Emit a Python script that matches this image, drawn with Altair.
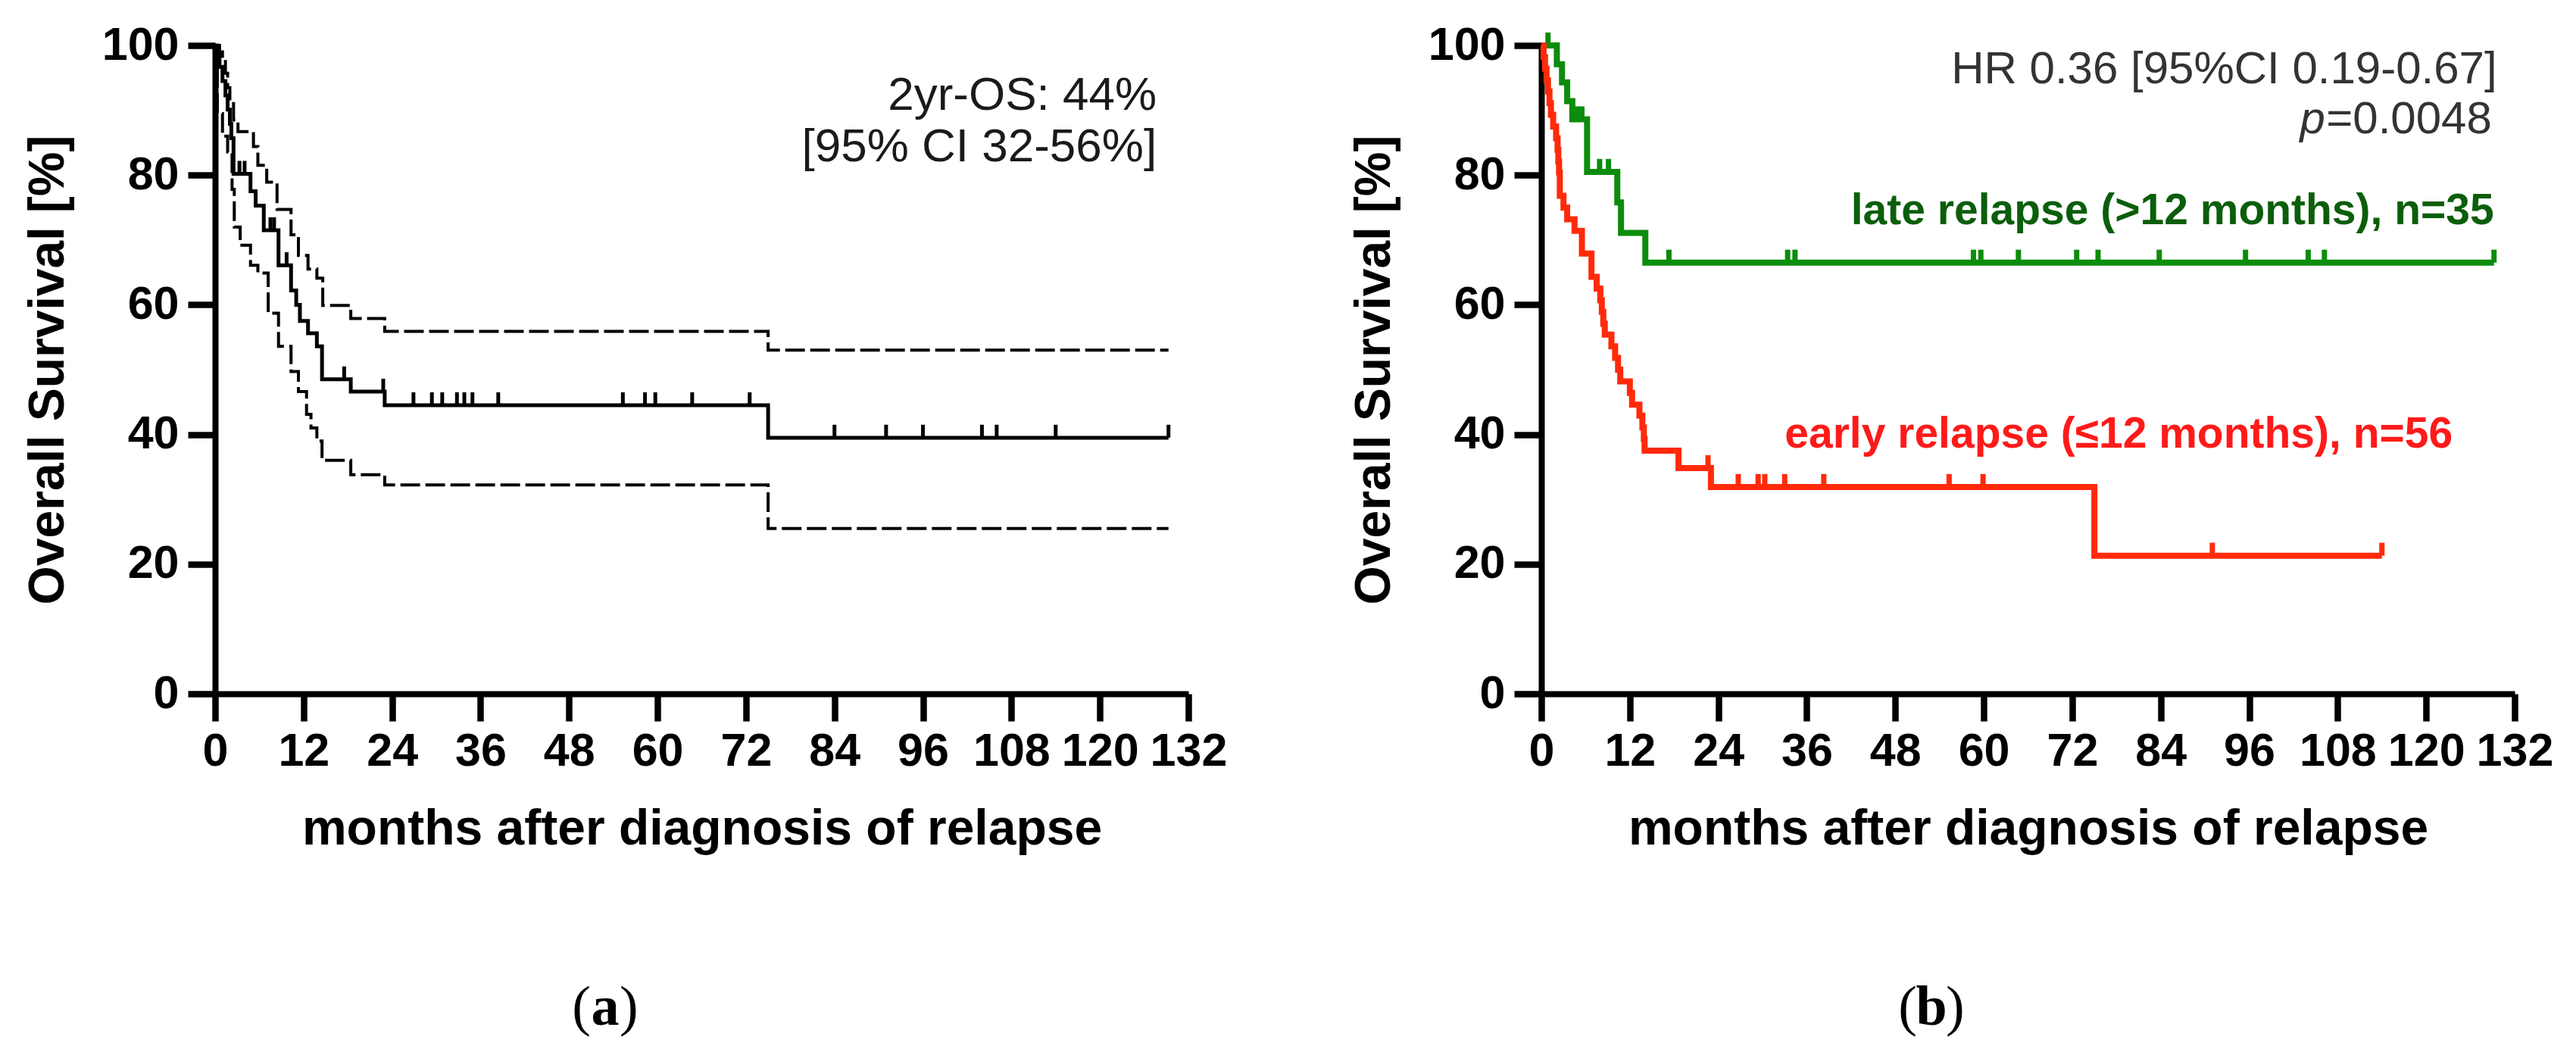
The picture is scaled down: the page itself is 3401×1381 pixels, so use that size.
import altair as alt
import pandas as pd

SANS = "Liberation Sans, Arial, Helvetica, sans-serif"
SERIF = "Liberation Serif, Times New Roman, serif"

# ---------------- Panel (a): overall survival with 95% CI ----------------
a_s_t = [0, 0.3, 0.6, 1.0, 1.4, 1.7, 2.0, 2.2, 2.5, 4.8, 5.5, 6.6, 8.6, 10.3, 11.0, 11.5, 12.6, 13.8, 14.5, 18.4, 23.0, 75.0, 129.3]
a_s   = [100, 98.9, 96.7, 94.5, 92.3, 90.1, 87.9, 85.7, 80.2, 77.5, 75.3, 71.5, 66.1, 62.2, 60.0, 57.5, 55.6, 53.6, 48.5, 46.6, 44.5, 39.5, 39.5]

a_u_t = [0, 0.6, 1.0, 1.4, 1.7, 2.0, 2.5, 3.1, 5.2, 5.8, 7.0, 8.4, 10.3, 11.3, 12.6, 13.8, 14.6, 18.4, 23.0, 75.0, 129.3]
a_u   = [100, 99.0, 97.8, 95.7, 93.5, 91.5, 88.5, 86.7, 84.4, 81.5, 78.9, 74.7, 70.8, 67.6, 65.5, 64.1, 59.9, 57.9, 55.9, 53.0, 53.0]

a_l_t = [0, 0.3, 1.0, 1.7, 2.3, 2.6, 3.4, 4.8, 5.8, 7.2, 8.6, 10.3, 11.3, 12.4, 13.0, 13.8, 14.5, 18.4, 23.0, 75.0, 129.3]
a_l   = [100, 89.5, 86.0, 83.6, 77.8, 72.0, 69.2, 66.1, 64.9, 58.7, 53.6, 49.7, 46.6, 43.1, 41.0, 39.0, 36.0, 33.8, 32.2, 25.5, 25.5]

a_cens_t = [3.3, 4.0, 7.5, 8.0, 9.7, 17.5, 22.8, 26.9, 29.4, 30.8, 32.8, 33.8, 34.9, 38.4, 55.3, 58.3, 59.7, 64.7, 72.5,
            84.0, 91.0, 96.0, 104.0, 106.0, 114.0, 129.3]

# ---------------- Panel (b): early vs late relapse ----------------
g_t = [0, 2.1, 2.8, 3.5, 4.2, 6.2, 10.3, 10.8, 14.1, 129.2]
g_s = [100, 97.1, 94.3, 91.4, 88.6, 80.5, 75.8, 71.1, 66.5, 66.5]
g_cens_t = [0.9, 4.9, 5.5, 7.9, 9.1, 17.3, 33.4, 34.4, 58.6, 59.6, 64.7, 72.6, 75.5, 83.8, 95.5, 104.0, 106.2, 129.2]

r_t = [0, 0.3, 0.5, 0.7, 0.9, 1.1, 1.3, 1.6, 2.0, 2.2, 2.3, 2.4, 2.5, 3.0, 3.5, 4.5, 5.5, 6.8, 7.5,
       8.0, 8.2, 8.4, 8.6, 9.5, 10.0, 10.4, 10.7, 12.0, 12.3, 13.3, 13.7, 13.9, 14.0, 18.6, 23.0, 75.0, 114.0]
r_s = [100, 98.2, 96.4, 94.6, 92.9, 91.1, 89.3, 87.5, 85.7, 83.9, 82.1, 80.4, 76.8, 75.0, 73.2, 71.4, 67.9, 64.3, 62.5,
       60.7, 58.9, 57.1, 55.4, 53.6, 51.8, 50.0, 48.2, 46.4, 44.6, 42.9, 41.1, 39.3, 37.5, 34.8, 31.9, 21.3, 21.3]
r_cens_t = [22.6, 26.7, 29.4, 30.3, 33.0, 38.3, 55.3, 59.9, 91.0, 114.0]

x_ticks = list(range(0, 133, 12))
y_ticks = [0, 20, 40, 60, 80, 100]

W, H = 1285, 856
TICK_H = 2.0  # censor tick height in % units


def level_at(ts, ss, t):
    lvl = ss[0]
    for ti, si in zip(ts, ss):
        if ti <= t:
            lvl = si
    return lvl


def curve_df(ts, ss):
    return pd.DataFrame({"t": ts, "s": ss})


def cens_df(ts, ss, cts):
    lv = [level_at(ts, ss, c) for c in cts]
    return pd.DataFrame({"t": cts, "s": lv, "s2": [v + TICK_H for v in lv]})


xs = alt.Scale(domain=[0, 132], nice=False, zero=False)
ys = alt.Scale(domain=[0, 100], nice=False)
x_axis = alt.Axis(values=x_ticks, title="months after diagnosis of relapse", labelOverlap=False,
                  labelFlush=False, titlePadding=40, labelPadding=10)
y_axis = alt.Axis(values=y_ticks, title="Overall Survival [%]", titlePadding=37, labelPadding=12)


def step_line(df, color, width, dash=None):
    kw = dict(interpolate="step-after", strokeWidth=width, color=color, clip=False)
    if dash:
        kw["strokeDash"] = dash
    return alt.Chart(df).mark_line(**kw).encode(
        x=alt.X("t:Q", scale=xs, axis=x_axis),
        y=alt.Y("s:Q", scale=ys, axis=y_axis),
    )


def ticks(df, color, width):
    return alt.Chart(df).mark_rule(color=color, strokeWidth=width, clip=False).encode(
        x=alt.X("t:Q", scale=xs), y=alt.Y("s:Q", scale=ys), y2="s2:Q"
    )


def label(text, x, y, color="#1a1a1a", size=62, weight="normal", align="right", style="normal", dx=0):
    return alt.Chart(pd.DataFrame({"v": [0]})).mark_text(
        text=text, align=align, baseline="middle", fontSize=size, fontWeight=weight, fontStyle=style,
        color=color, font=SANS, dx=dx, clip=False
    ).encode(x=alt.datum(x, scale=xs), y=alt.datum(y, scale=ys))


def panel_letter(letter, cx):
    cy = H + 415
    parts = [("(", "right", "normal", -19), (letter, "center", "bold", 0), (")", "left", "normal", 19)]
    layers = []
    for txt, al, wt, dx in parts:
        layers.append(alt.Chart(pd.DataFrame({"v": [0]})).mark_text(
            text=txt, align=al, baseline="middle", fontSize=74, fontWeight=wt, font=SERIF,
            color="black", dx=dx, clip=False
        ).encode(x=alt.value(cx), y=alt.value(cy)))
    return alt.layer(*layers)


# panel a
pa = alt.layer(
    step_line(curve_df(a_u_t, a_u), "black", 4, [26, 7]),
    step_line(curve_df(a_l_t, a_l), "black", 4, [26, 7]),
    step_line(curve_df(a_s_t, a_s), "black", 5),
    ticks(cens_df(a_s_t, a_s, a_cens_t), "black", 5),
    label("2yr-OS: 44%", 127.7, 92.3),
    label("[95% CI 32-56%]", 127.7, 84.3),
    panel_letter("a", 515),
).properties(width=W, height=H)

# panel b
pb = alt.layer(
    step_line(curve_df(g_t, g_s), "#0c8c0c", 8),
    ticks(cens_df(g_t, g_s, g_cens_t), "#0c8c0c", 7),
    step_line(curve_df(r_t, r_s), "#ff2a0a", 8),
    ticks(cens_df(r_t, r_s, r_cens_t), "#ff2a0a", 7),
    label("HR 0.36 [95%CI 0.19-0.67]", 129.6, 96.3, size=60, color="#333333"),
    label("=0.0048", 128.9, 88.6, size=60, color="#333333"),
    label("p", 128.9, 88.6, size=60, style="italic", dx=-220, color="#333333"),
    label("late relapse (>12 months), n=35", 129.2, 74.4, color="#0b5e0b", size=57, weight="bold"),
    label("early relapse (\u226412 months), n=56", 33.0, 39.9, color="#ff1a1a", size=57, weight="bold", align="left"),
    panel_letter("b", 515),
).properties(width=W, height=H)

chart = alt.hconcat(pa, pb, spacing=161).configure_view(stroke=None).configure_axis(
    grid=False, domainColor="black", domainWidth=8, tickColor="black", tickWidth=8.5, tickSize=36,
    labelFont=SANS, labelFontWeight="bold", labelFontSize=61, labelColor="black",
    titleFont=SANS, titleFontWeight="bold", titleFontSize=66, titleColor="black",
).properties(padding={"left": 22, "top": 21, "right": 10, "bottom": 5}, background="white")

chart.save("out.html", embed_options={"renderer": "svg", "actions": False})
